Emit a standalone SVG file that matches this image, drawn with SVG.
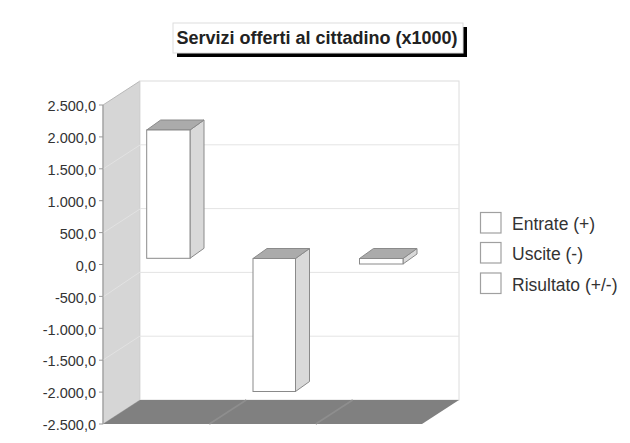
<svg xmlns="http://www.w3.org/2000/svg" width="630" height="443" viewBox="0 0 630 443">
<style>
text{font-family:"Liberation Sans",Arial,sans-serif;fill:#333}
.ax{font-size:14.5px;text-anchor:end}
.lg{font-size:17.5px}
.grid{stroke:#e4e4e4;stroke-width:1;fill:none}
.wgrid{stroke:#e2e2e2;stroke-width:1;fill:none}
.tick{stroke:#999;stroke-width:1}
.front{fill:#fff;stroke:#8a8a8a;stroke-width:1}
.top{fill:#ababab;stroke:#8a8a8a;stroke-width:1}
.side{fill:#d9d9d9;stroke:#8a8a8a;stroke-width:1}
.lbox{fill:#fff;stroke:#a0a0a0;stroke-width:1.2}
</style>
<rect width="630" height="443" fill="#fff"/>
<g id="title">
<rect x="177" y="27" width="290" height="30" fill="#000"/>
<rect x="173" y="23" width="290" height="30" fill="#fff" stroke="#ddd" stroke-width="1"/>
<text x="317" y="44" text-anchor="middle" style="font-size:18px;font-weight:bold;fill:#222">Servizi offerti al cittadino (x1000)</text>
</g>
<g id="walls">
<polygon points="103,105 140,81 140,400 103,424" fill="#d6d6d6" stroke="#b8b8b8" stroke-width="1"/>
<rect x="140" y="81" width="319" height="319" fill="#fff" stroke="#dcdcdc" stroke-width="1"/>
<path class="wgrid" d="M103,169 L140,145 M103,233 L140,209 M103,297 L140,272 M103,360 L140,336"/>
<path class="grid" d="M140,144.8 H459 M140,208.6 H459 M140,272.4 H459 M140,336.2 H459"/>
<polygon points="103,424 140,400 459,400 422,424" fill="#808080"/>
<path d="M209.3,424 L246.3,400 M315.7,424 L352.7,400" stroke="#8e8e8e" stroke-width="1.5"/>
</g>
<g id="axis">
<line x1="103" y1="105" x2="103" y2="424" stroke="#999" stroke-width="1"/>
<path class="tick" d="M99,105H103M99,136.9H103M99,168.8H103M99,200.7H103M99,232.6H103M99,264.5H103M99,296.4H103M99,328.3H103M99,360.2H103M99,392.1H103M99,424H103"/>
<text class="ax" x="96" y="111">2.500,0</text>
<text class="ax" x="96" y="143">2.000,0</text>
<text class="ax" x="96" y="175">1.500,0</text>
<text class="ax" x="96" y="207">1.000,0</text>
<text class="ax" x="96" y="239">500,0</text>
<text class="ax" x="96" y="270.5">0,0</text>
<text class="ax" x="96" y="302.5">-500,0</text>
<text class="ax" x="96" y="334.5">-1.000,0</text>
<text class="ax" x="96" y="366">-1.500,0</text>
<text class="ax" x="96" y="398">-2.000,0</text>
<text class="ax" x="96" y="430">-2.500,0</text>
</g>
<g id="bar-entrate">
<polygon class="side" points="190,130 204,120 204,248.3 190,258.3"/>
<polygon class="top" points="146.7,130 160.7,120 204,120 190,130"/>
<rect class="front" x="146.7" y="130" width="43.3" height="128.3"/>
</g>
<g id="bar-uscite">
<polygon class="side" points="295.5,258.5 309.5,248.5 309.5,381.5 295.5,391.5"/>
<polygon class="top" points="253,258.5 267,248.5 309.5,248.5 295.5,258.5"/>
<rect class="front" x="253" y="258.5" width="42.5" height="133"/>
</g>
<g id="bar-risultato">
<polygon class="side" points="403,258.5 417,248.5 417,254 403,264"/>
<polygon class="top" points="359.5,258.5 373.5,248.5 417,248.5 403,258.5"/>
<rect class="front" x="359.5" y="258.5" width="43.5" height="5.5"/>
</g>
<g id="legend">
<rect class="lbox" x="480.5" y="212.5" width="20.5" height="20.5"/>
<text class="lg" x="512" y="229.5">Entrate (+)</text>
<rect class="lbox" x="480.5" y="242.5" width="20.5" height="20.5"/>
<text class="lg" x="512" y="260">Uscite (-)</text>
<rect class="lbox" x="480.5" y="273" width="20.5" height="20.5"/>
<text class="lg" x="512" y="290.5">Risultato (+/-)</text>
</g>
<g id="connectors"/>
</svg>
